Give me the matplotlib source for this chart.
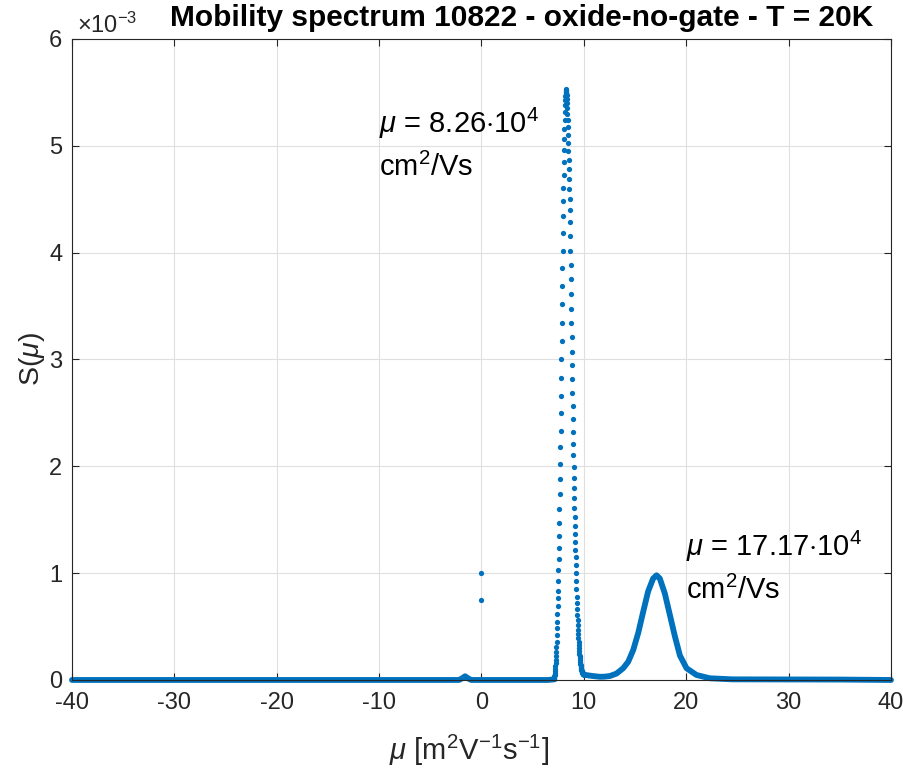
import numpy as np
import matplotlib
matplotlib.use("Agg")
import matplotlib.pyplot as plt

plt.rcParams['font.family'] = ['Liberation Sans', 'DejaVu Sans']
plt.rcParams['mathtext.fontset'] = 'custom'
plt.rcParams['mathtext.rm'] = 'Liberation Sans'
plt.rcParams['mathtext.it'] = 'Liberation Sans:italic'
plt.rcParams['axes.unicode_minus'] = False

# S(mu) in units of 1e-3, mu in 1e4 cm^2/Vs (= m^2/Vs)
# main peak: discrete points on a 0.02 grid
peak_mu = 8.26
grid_step = 0.02
peak_left = [0.005, 0.009, 0.019, 0.028, 0.037, 0.047, 0.066, 0.084, 0.103, 0.131,
             0.159, 0.187, 0.225, 0.262, 0.309, 0.356, 0.421, 0.487, 0.543, 0.618,
             0.693, 0.768, 0.833, 0.927, 1.030, 1.133, 1.236, 1.348, 1.470, 1.601,
             1.742, 1.882, 2.022, 2.182, 2.331, 2.500, 2.659, 2.828, 3.006, 3.174,
             3.343, 3.521, 3.689, 3.858, 4.017, 4.185, 4.345, 4.485, 4.607, 4.728,
             4.850, 4.963, 5.066, 5.159, 5.243, 5.318, 5.384, 5.431, 5.468, 5.496,
             5.515]
peak_top = 5.534
peak_right = [5.524, 5.506, 5.478, 5.440, 5.403, 5.356, 5.300, 5.243, 5.178, 5.103,
              5.028, 4.953, 4.869, 4.785, 4.691, 4.597, 4.504, 4.401, 4.288, 4.157,
              4.017, 3.886, 3.755, 3.614, 3.474, 3.343, 3.212, 3.071, 2.949, 2.818,
              2.687, 2.566, 2.444, 2.322, 2.210, 2.107, 1.994, 1.891, 1.798, 1.704,
              1.610, 1.526, 1.442, 1.367, 1.292, 1.217, 1.152, 1.077, 1.002, 0.927,
              0.852, 0.777, 0.721, 0.665, 0.609, 0.562, 0.515, 0.468, 0.431, 0.393,
              0.356, 0.328, 0.300, 0.272, 0.243, 0.225, 0.206, 0.187, 0.169, 0.150,
              0.140, 0.122, 0.112, 0.103, 0.094, 0.087, 0.081, 0.076, 0.071, 0.067,
              0.063, 0.060, 0.057, 0.054, 0.052, 0.050]

# dense parts (look like a continuous thick line)
base_mu = [-40, -2.2, -1.9, -1.6, -1.3, -1.0, 6.5, 6.8, 7.02]
base_s = [0, 0, 0.015, 0.035, 0.015, 0, 0, 0.003, 0.005]
tail_mu = [10.0, 10.5, 11.0, 11.56, 12.0, 12.54, 13.19, 13.84, 14.33, 14.82, 15.31,
           15.80, 16.28, 16.77, 17.10, 17.42, 17.91, 18.40, 18.89, 19.38, 20.03,
           21.0, 22.3, 24.5, 35.0, 40.0]
tail_s = [0.05, 0.042, 0.036, 0.03, 0.031, 0.037, 0.06, 0.11, 0.17, 0.28, 0.44,
          0.64, 0.83, 0.95, 0.98, 0.95, 0.81, 0.61, 0.41, 0.23, 0.11,
          0.047, 0.016, 0.006, 0.004, 0.0]

# two stray points at mu = 0
stray_mu = [0.0, 0.0]
stray_s = [1.005, 0.752]

peak_s = np.array(peak_left + [peak_top] + peak_right)
peak_x = peak_mu + grid_step * (np.arange(len(peak_s)) - len(peak_left))

blue = '#0072BD'
dark = '#262626'
fig = plt.figure(figsize=(9.04, 7.70), dpi=100)
ax = fig.add_axes([0.0796, 0.1169, 0.906, 0.8325])

ax.plot(base_mu, base_s, '-', color=blue, lw=4.2, clip_on=False, solid_capstyle='round')
ax.plot(tail_mu, tail_s, '-', color=blue, lw=4.2, clip_on=False, solid_capstyle='round')
ax.plot(peak_x, peak_s, 'o', color=blue, ms=3.8, mew=0, clip_on=False)
ax.plot(stray_mu, stray_s, 'o', color=blue, ms=3.8, mew=0, clip_on=False)

ax.set_xlim(-40, 40)
ax.set_ylim(0, 6)
ax.set_xticks(np.arange(-40, 41, 10))
ax.set_yticks(np.arange(0, 7, 1))
ax.grid(True, color='#dfdfdf', lw=0.8)
ax.set_axisbelow(True)
for sp in ax.spines.values():
    sp.set_color(dark)
    sp.set_linewidth(0.8)
ax.tick_params(direction='in', length=5, width=0.8, colors=dark,
               labelsize=17, top=True, right=True, labeltop=False, labelright=False)
ax.tick_params(axis='x', pad=9)
ax.tick_params(axis='y', pad=7)

ax.set_xlabel(r'$\mu$ [m$^2$V$^{-1}$s$^{-1}$]', fontsize=21, color=dark)
ax.xaxis.set_label_coords(0.485, -0.083)
ax.set_ylabel(r'S($\mu$)', fontsize=20.5, color=dark)
ax.yaxis.set_label_coords(-0.031, 0.5)
ax.text(0.549, 1.0203, 'Mobility spectrum 10822 - oxide-no-gate - T = 20K',
        transform=ax.transAxes, fontsize=21.5, fontweight='bold',
        ha='center', va='baseline')
ax.text(0.006, 1.0094, r'$\times$10$^{-3}$', transform=ax.transAxes,
        fontsize=17, color=dark, ha='left', va='baseline')

ax.text(-10, 5.02, '$\\mu$ = 8.26$\\cdot$10$^4$\ncm$^2$/Vs', fontsize=21,
        ha='left', va='center', linespacing=1.5)
ax.text(20, 1.06, '$\\mu$ = 17.17$\\cdot$10$^4$\ncm$^2$/Vs', fontsize=21,
        ha='left', va='center', linespacing=1.5)

fig.savefig('out.png', dpi=100)
